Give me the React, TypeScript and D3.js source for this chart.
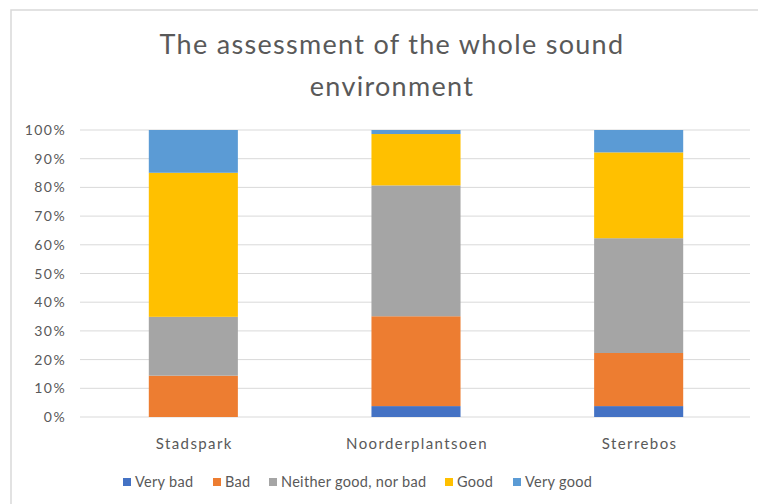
import React from "react";
import * as d3 from "d3";

// values in percent
const categories = ["Stadspark", "Noorderplantsoen", "Sterrebos"];
const seriesNames = ["Very bad", "Bad", "Neither good, nor bad", "Good", "Very good"];
const veryBad = [0, 3.8, 3.8];
const bad = [14.4, 31.3, 18.5];
const neither = [20.5, 45.6, 40.0];
const good = [50.2, 17.9, 29.9];
const veryGood = [14.9, 1.4, 7.8];
const yTicks = [0, 10, 20, 30, 40, 50, 60, 70, 80, 90, 100];
const colors = ["#4472C4", "#ED7D31", "#A5A5A5", "#FFC000", "#5B9BD5"];

const width = 758;
const height = 504;
const font = "Lato, 'Open Sans', sans-serif";
const textColor = "#595959";

const App = () => {
  const series = [veryBad, bad, neither, good, veryGood];
  const rows = categories.map((c, i) => {
    const r: any = { cat: c };
    seriesNames.forEach((s, j) => (r[s] = series[j][i]));
    return r;
  });
  const stacked = d3.stack().keys(seriesNames)(rows);

  const x = d3.scaleBand().domain(categories).range([82, 750]).paddingInner(0.6).paddingOuter(0.3);
  const y = d3.scaleLinear().domain([0, 100]).range([417, 130]);

  // legend positions (x of each swatch)
  const legendX = [123, 213, 269, 445, 513];

  return (
    <svg width={width} height={height} style={{ position: "absolute", left: 0, top: 0, background: "#fff" }}>
      <rect x={11} y={10} width={width} height={height} fill="#fff" stroke="#d9d9d9" strokeWidth={1.5} />
      <text x={392} y={54} textAnchor="middle" fontFamily={font} fontSize={27} letterSpacing={1.3} fill={textColor}>
        The assessment of the whole sound
      </text>
      <text x={392} y={96} textAnchor="middle" fontFamily={font} fontSize={27} letterSpacing={1.3} fill={textColor}>
        environment
      </text>
      <g>
        {yTicks.map((t) => (
          <g key={t}>
            <line x1={80} x2={750} y1={y(t)} y2={y(t)} stroke="#d9d9d9" strokeWidth={1} />
            <text x={66} y={y(t) + 5} textAnchor="end" fontFamily={font} fontSize={14} letterSpacing={1.4} fill={textColor}>
              {t}%
            </text>
          </g>
        ))}
      </g>
      {stacked.map((s, j) => (
        <g key={s.key} fill={colors[j]}>
          {s.map((d: any) => (
            <rect
              key={d.data.cat}
              x={x(d.data.cat)}
              y={y(d[1])}
              width={x.bandwidth()}
              height={Math.max(0, y(d[0]) - y(d[1]))}
            />
          ))}
        </g>
      ))}
      {categories.map((c) => (
        <text key={c} x={(x(c) as number) + x.bandwidth() / 2 + 1} y={449} textAnchor="middle" fontFamily={font} fontSize={15} letterSpacing={1.4} fill={textColor}>
          {c}
        </text>
      ))}
      {seriesNames.map((s, j) => (
        <g key={s}>
          <rect x={legendX[j]} y={478} width={8} height={8} fill={colors[j]} />
          <text x={legendX[j] + 12} y={487} fontFamily={font} fontSize={14.5} letterSpacing={0.3} fill={textColor}>
            {s}
          </text>
        </g>
      ))}
    </svg>
  );
};

export default App;
